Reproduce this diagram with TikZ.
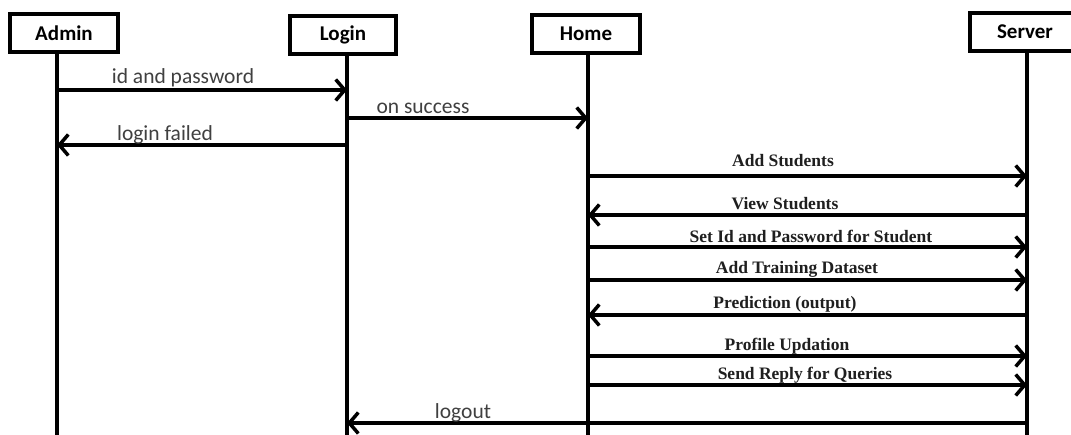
\documentclass[tikz,border=0pt]{standalone}
\usepackage{fontspec}
\setmainfont{Liberation Serif}
\newfontfamily\carlitofont{Carlito}
\usetikzlibrary{arrows.meta}
\definecolor{lbl}{HTML}{404040}
\tikzset{
  actor/.style={draw=black,line width=4pt,fill=white,minimum height=38pt,inner sep=0pt,font=\carlitofont\bfseries\fontsize{21}{21}\selectfont},
  life/.style={line width=3.5pt},
  msg/.style={line width=3.5pt,-{Straight Barb[length=9pt,width=21pt,line width=3.5pt]}},
  glabel/.style={font=\carlitofont\fontsize{21.5}{21.5}\selectfont,text=lbl,inner sep=0pt,anchor=base},
  slabel/.style={font=\bfseries\fontsize{17.5}{17.5}\selectfont,text=black!88,inner sep=0pt,anchor=base}
}
\begin{document}
\begin{tikzpicture}[x=1pt,y=-1pt]
\useasboundingbox (0,0) rectangle (1071,435);
\clip (0,0) rectangle (1071,435);
\fill[white] (0,0) rectangle (1071,435);
% lifelines
\draw[life] (57,33) -- (57,440);
\draw[life] (347,35) -- (347,440);
\draw[life] (588,33) -- (588,440);
\draw[life] (1027,32) -- (1027,440);
% actors
\node[actor,minimum width=108pt] (admin) at (64,33) {Admin};
\node[actor,minimum width=106pt] (login) at (343,35) {Login};
\node[actor,minimum width=108pt] (home) at (586,34) {Home};
\node[actor,minimum width=110pt] (server) at (1025,32) {Server};
% message endpoints
\foreach \n/\y in {1/90,2/118,3/145,4/176,5/215,6/247,7/280,8/315,9/356,10/385,11/423}{
  \coordinate (A\n) at (57,\y);
  \coordinate (L\n) at (347,\y);
  \coordinate (H\n) at (588,\y);
  \coordinate (S\n) at (1027,\y);
}
\draw[msg] (A1) -- (L1);
\node[glabel] (t1) at (183,84) {id and password};
\draw[msg] (L2) -- (H2);
\node[glabel] (t2) at (423,114) {on success};
\draw[msg] (L3) -- (A3);
\node[glabel] (t3) at (165,141) {login failed};
\draw[msg] (H4) -- (S4);
\node[slabel] (t4) at (783,167) {Add Students};
\draw[msg] (S5) -- (H5);
\node[slabel] (t5) at (785,210) {View Students};
\draw[msg] (H6) -- (S6);
\node[slabel] (t6) at (811,243) {Set Id and Password for Student};
\draw[msg] (H7) -- (S7);
\node[slabel] (t7) at (797,274) {Add Training Dataset};
\draw[msg] (S8) -- (H8);
\node[slabel] (t8) at (785,309) {Prediction (output)};
\draw[msg] (H9) -- (S9);
\node[slabel] (t9) at (787,351) {Profile Updation};
\draw[msg] (H10) -- (S10);
\node[slabel] (t10) at (805,380) {Send Reply for Queries};
\draw[msg] (S11) -- (L11);
\node[glabel] (t11) at (463,419) {logout};
\end{tikzpicture}
\end{document}
